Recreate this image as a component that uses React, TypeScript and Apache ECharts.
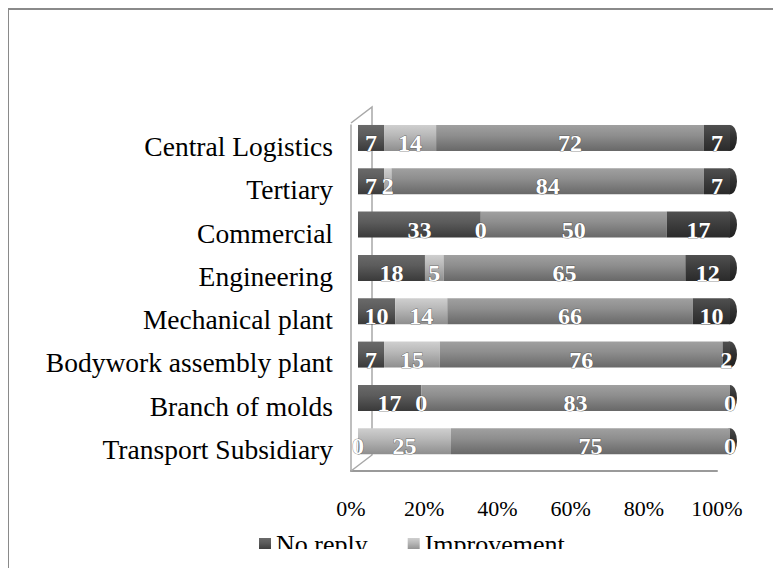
import React, { useEffect, useRef } from "react";
import * as echarts from "echarts";

const categories = [
  "Central Logistics",
  "Tertiary",
  "Commercial",
  "Engineering",
  "Mechanical plant",
  "Bodywork assembly plant",
  "Branch of molds",
  "Transport Subsidiary",
];
const noReply = [7, 7, 33, 18, 10, 7, 17, 0];
const improvement = [14, 2, 0, 5, 14, 15, 0, 25];
const thirdSeries = [72, 84, 50, 65, 66, 76, 83, 75];
const fourthSeries = [7, 7, 17, 12, 10, 2, 0, 0];
const xTicks = [0, 20, 40, 60, 80, 100];
const barEnd = 100;

const FONT = "'Liberation Serif', 'Times New Roman', serif";

function grad(a: string, b: string, c: string) {
  return new echarts.graphic.LinearGradient(0, 0, 0, 1, [
    { offset: 0, color: a },
    { offset: 0.4, color: b },
    { offset: 1, color: c },
  ]);
}

export default function App() {
  const ref = useRef<HTMLDivElement>(null);
  useEffect(() => {
    if (!ref.current) return;
    const chart = echarts.init(ref.current, null, { renderer: "svg" });
    const label = {
      show: true,
      position: "inside",
      offset: [0, 5],
      color: "#fff",
      fontWeight: "bold",
      fontSize: 24,
      fontFamily: FONT,
      textBorderColor: "rgba(50,50,50,0.55)",
      textBorderWidth: 1,
    };
    const mk = (name: string, data: number[], color: any) => ({
      name,
      type: "bar",
      stack: "all",
      xAxisIndex: 0,
      yAxisIndex: 0,
      barWidth: 26,
      z: 3,
      data,
      itemStyle: { color },
      label,
    });
    chart.setOption({
      animation: false,
      backgroundColor: "#fff",
      grid: [
        { left: 358, width: 372, top: 116.3, height: 346.6 },
        { left: 351, width: 366, top: 125, height: 346 },
      ],
      xAxis: [
        { gridIndex: 0, type: "value", min: 0, max: 100, show: false },
        {
          gridIndex: 1,
          type: "value",
          min: 0,
          max: 100,
          interval: 20,
          axisLine: { show: true, lineStyle: { color: "#9a9a9a", width: 2 } },
          axisTick: { show: false },
          splitLine: { show: false },
          axisLabel: {
            margin: 26,
            fontSize: 22,
            fontFamily: FONT,
            color: "#000",
            formatter: (v: number) => (xTicks.includes(v) ? v + "%" : ""),
          },
        },
      ],
      yAxis: [
        { gridIndex: 0, type: "category", inverse: true, data: categories, show: false },
        {
          gridIndex: 1,
          type: "category",
          inverse: true,
          data: categories,
          axisLine: { show: true, lineStyle: { color: "#a8a8a8", width: 1.5 } },
          axisTick: { show: false },
          axisLabel: { margin: 18, fontSize: 27.5, fontFamily: FONT, color: "#000" },
        },
      ],
      legend: {
        data: ["No reply", "Improvement"],
        left: 254,
        top: 526,
        icon: "rect",
        itemWidth: 12,
        itemHeight: 12,
        itemGap: 40,
        textStyle: { fontSize: 26, fontFamily: FONT, color: "#000" },
      },
      series: [
        mk("No reply", noReply, grad("#6a6a6a", "#5c5c5c", "#3a3a3a")),
        mk("Improvement", improvement, grad("#cfcfcf", "#b8b8b8", "#8e8e8e")),
        mk("Series 3", thirdSeries, grad("#a0a0a0", "#8e8e8e", "#686868")),
        mk("Series 4", fourthSeries, grad("#505050", "#404040", "#2a2a2a")),
        {
          name: "cap",
          type: "scatter",
          xAxisIndex: 0,
          yAxisIndex: 0,
          z: 2,
          silent: true,
          symbol: "path://M5 0 A5 13 0 1 1 5 26 A5 13 0 1 1 5 0 Z",
          symbolKeepAspect: false,
          symbolSize: [14, 26],
          itemStyle: { color: grad("#4a4a4a", "#333333", "#1e1e1e"), opacity: 1 },
          data: categories.map((c) => [barEnd, c]),
        },
      ],
      graphic: [
        {
          type: "rect",
          shape: { x: 8, y: 9, width: 800, height: 600 },
          style: { fill: "none", stroke: "#8a8a8a", lineWidth: 2 },
          z: 0,
          silent: true,
        },
        {
          type: "polyline",
          shape: { points: [[351, 123], [372, 107], [372, 455], [351, 471]] },
          style: { fill: "none", stroke: "#a8a8a8", lineWidth: 1.5 },
          z: 1,
          silent: true,
        },
        {
          type: "rect",
          shape: { x: 10, y: 549, width: 780, height: 40 },
          style: { fill: "#fff" },
          z: 100,
          silent: true,
        },
      ],
    });
    return () => chart.dispose();
  }, []);
  return <div ref={ref} style={{ width: 781, height: 576, margin: -8 }} />;
}
